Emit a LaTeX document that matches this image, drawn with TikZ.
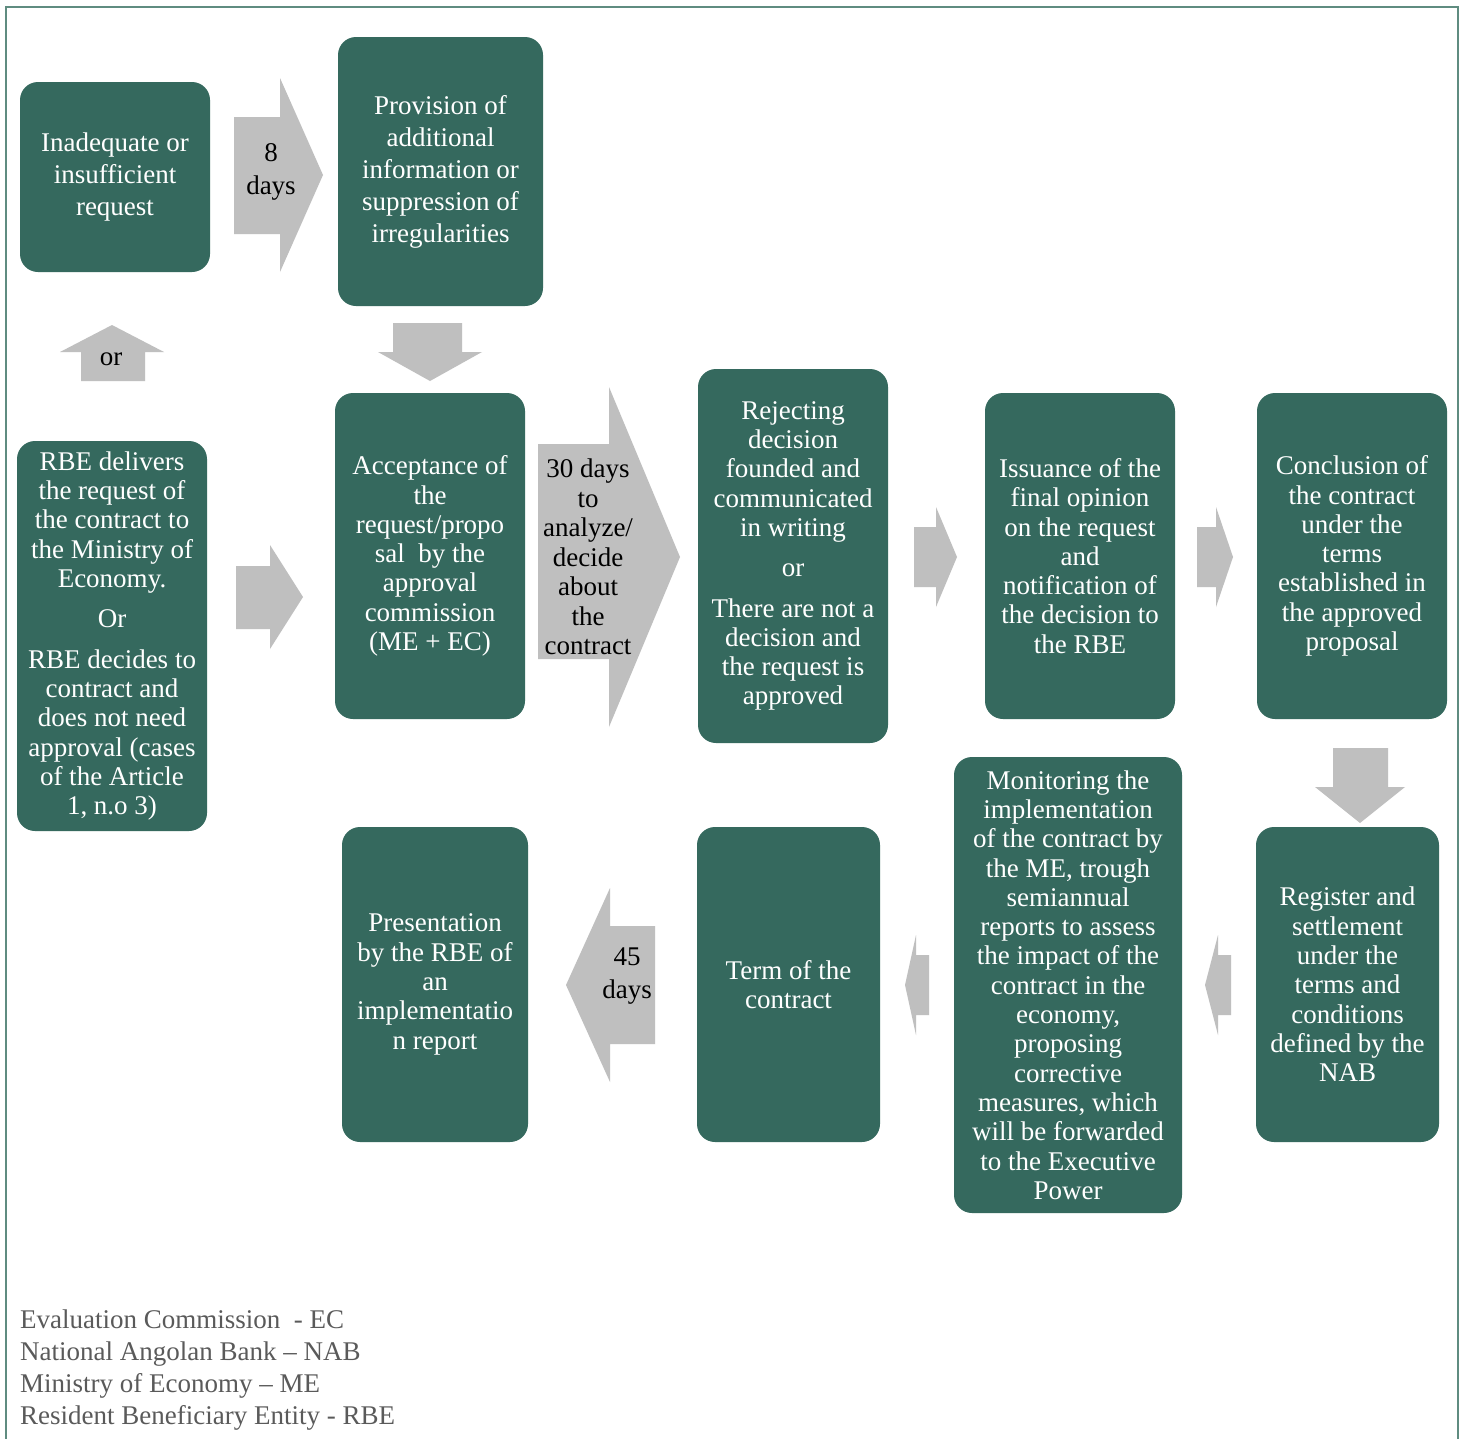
\documentclass[tikz,border=0pt]{standalone}
\usepackage{fontspec}
\setmainfont{Liberation Serif}
\definecolor{boxgreen}{HTML}{35695E}
\definecolor{framecol}{HTML}{5F8C80}
\definecolor{arrgray}{HTML}{BFBFBF}
\definecolor{legendgray}{HTML}{5A5A5A}
\tikzset{
  flowbox/.style={fill=boxgreen, rounded corners=18pt, text=white, align=center,
    inner sep=0pt, font=\fontsize{27}{29.3}\selectfont},
  topbox/.style={flowbox, font=\fontsize{27}{32}\selectfont},
  blockarrow/.style={fill=arrgray, draw=none},
  arrlabel/.style={text=black, align=center, inner sep=0pt, font=\fontsize{27}{30}\selectfont},
}
\begin{document}
\begin{tikzpicture}[x=1pt,y=-1pt]
\useasboundingbox (0,0) rectangle (1464,1438);
\fill[white] (0,0) rectangle (1464,1438);
% frame
\draw[framecol, line width=2.5pt] (6,1440) -- (6,7) -- (1458,7) -- (1458,1440);

% boxes
\node[topbox, minimum width=190pt, minimum height=190pt] (inad) at (115,177)
  {Inadequate or\\insufficient\\request};
\node[topbox, minimum width=205pt, minimum height=269pt] (prov) at (440.5,171.5)
  {Provision of\\additional\\information or\\suppression of\\irregularities};
\node[flowbox, minimum width=190pt, minimum height=390pt] (rbe) at (112,636)
  {RBE delivers\\the request of\\the contract to\\the Ministry of\\Economy.\\[11pt]Or\\[11pt]RBE decides to\\contract and\\does not need\\approval (cases\\of the Article\\1, n.o 3)};
\node[flowbox, minimum width=190pt, minimum height=326pt] (acc) at (430,556)
  {Acceptance of\\the\\request/propo\\sal\ \ by the\\approval\\commission\\(ME + EC)};
\node[flowbox, minimum width=190pt, minimum height=374pt] (rej) at (793,556)
  {Rejecting\\decision\\founded and\\communicated\\in writing\\[11pt]or\\[11pt]There are not a\\decision and\\the request is\\approved};
\node[flowbox, minimum width=190pt, minimum height=326pt] (iss) at (1080,556)
  {Issuance of the\\final opinion\\on the request\\and\\notification of\\the decision to\\the RBE};
\node[flowbox, minimum width=190pt, minimum height=326pt] (conc) at (1352,556)
  {Conclusion of\\the contract\\under the\\terms\\established in\\the approved\\proposal};
\node[flowbox, minimum width=183pt, minimum height=315pt] (reg) at (1347.5,984.5)
  {Register and\\settlement\\under the\\terms and\\conditions\\defined by the\\NAB};
\node[flowbox, minimum width=228pt, minimum height=456pt] (mon) at (1068,985)
  {Monitoring the\\implementation\\of the contract by\\the ME, trough\\semiannual\\reports to assess\\the impact of the\\contract in the\\economy,\\proposing\\corrective\\measures, which\\will be forwarded\\to the Executive\\Power};
\node[flowbox, minimum width=183pt, minimum height=315pt] (term) at (788.5,984.5)
  {Term of the\\contract};
\node[flowbox, minimum width=186pt, minimum height=315pt] (pres) at (435,984.5)
  {Presentation\\by the RBE of\\an\\implementatio\\n report};

% block arrows
\fill[blockarrow] (234,117) -- (280,117) -- (280,78) -- (323,175) -- (280,272) -- (280,234) -- (234,234) -- cycle;
\fill[blockarrow] (81,381) -- (81,352) -- (60,352) -- (112,325) -- (164,352) -- (145,352) -- (145,381) -- cycle;
\fill[blockarrow] (393,323) -- (462,323) -- (462,352) -- (482,352) -- (430,381) -- (378,352) -- (393,352) -- cycle;
\fill[blockarrow] (236,566) -- (270,566) -- (270,545) -- (303,597) -- (270,649) -- (270,629) -- (236,629) -- cycle;
\fill[blockarrow] (538,444) -- (609,444) -- (609,387) -- (680,557) -- (609,727) -- (609,659) -- (538,659) -- cycle;
\fill[blockarrow] (914,527) -- (936,527) -- (936,507) -- (957,557) -- (936,607) -- (936,587) -- (914,587) -- cycle;
\fill[blockarrow] (1197,527) -- (1216,527) -- (1216,507) -- (1233,557) -- (1216,607) -- (1216,587) -- (1197,587) -- cycle;
\fill[blockarrow] (1333,748) -- (1388,748) -- (1388,787) -- (1405,787) -- (1360,823) -- (1315,787) -- (1333,787) -- cycle;
\fill[blockarrow] (1231,955) -- (1218,955) -- (1218,935) -- (1205,985) -- (1218,1035) -- (1218,1015) -- (1231,1015) -- cycle;
\fill[blockarrow] (929,955) -- (916,955) -- (916,935) -- (905,985) -- (916,1035) -- (916,1015) -- (929,1015) -- cycle;
\fill[blockarrow] (655,926) -- (610,926) -- (610,888) -- (566,985) -- (610,1082) -- (610,1044) -- (655,1044) -- cycle;

% arrow labels
\node[arrlabel, font=\fontsize{27}{33}\selectfont] (l8) at (271,172) {8\\days};
\node[arrlabel] (lor) at (111,359) {or};
\node[arrlabel, font=\fontsize{27}{29.5}\selectfont] (l30) at (588,557) {30 days\\to\\analyze/\\decide\\about\\the\\contract};
\node[arrlabel, font=\fontsize{27}{33}\selectfont] (l45) at (627,976) {45\\days};

% legend
\node[anchor=west, align=left, inner sep=0pt, text=legendgray,
  font=\fontsize{27}{32}\selectfont] (legend) at (20,1370)
  {Evaluation Commission\ \ - EC\\National Angolan Bank -- NAB\\Ministry of Economy -- ME\\Resident Beneficiary Entity - RBE};
\end{tikzpicture}
\end{document}
